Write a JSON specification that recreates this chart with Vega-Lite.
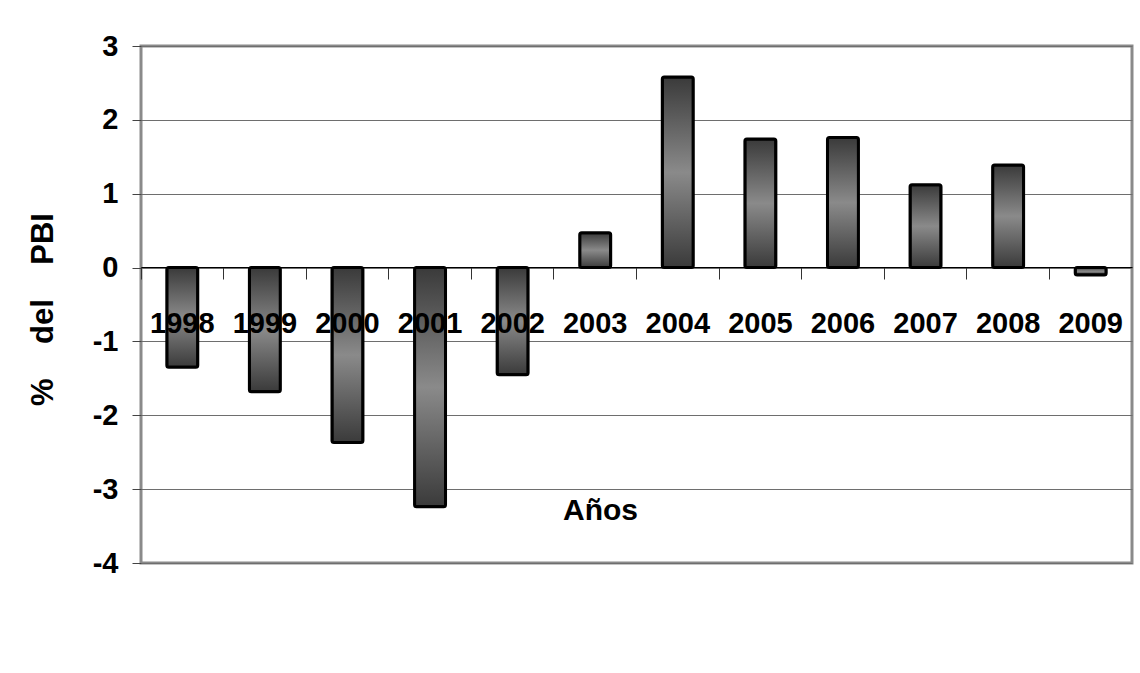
{
  "$schema": "https://vega.github.io/schema/vega-lite/v6.json",
  "width": 991,
  "height": 517,
  "autosize": {"type": "none"},
  "padding": {"left": 141, "top": 46, "right": 8, "bottom": 110},
  "background": "white",
  "config": {"view": {"stroke": "#8a8a8a", "strokeWidth": 3}},
  "data": {
    "values": [
      {"anio": "1998", "valor": -1.35},
      {"anio": "1999", "valor": -1.68},
      {"anio": "2000", "valor": -2.37},
      {"anio": "2001", "valor": -3.24},
      {"anio": "2002", "valor": -1.45},
      {"anio": "2003", "valor": 0.47},
      {"anio": "2004", "valor": 2.58},
      {"anio": "2005", "valor": 1.74},
      {"anio": "2006", "valor": 1.76},
      {"anio": "2007", "valor": 1.12},
      {"anio": "2008", "valor": 1.39},
      {"anio": "2009", "valor": -0.1}
    ]
  },
  "mark": {
    "type": "bar",
    "width": {"band": 0.375},
    "fill": {
      "gradient": "linear",
      "x1": 0, "y1": 0, "x2": 0, "y2": 1,
      "stops": [
        {"offset": 0, "color": "#3a3a3a"},
        {"offset": 0.5, "color": "#8a8a8a"},
        {"offset": 1, "color": "#3a3a3a"}
      ]
    },
    "stroke": "black",
    "strokeWidth": 3,
    "cornerRadius": 2
  },
  "encoding": {
    "x": {
      "field": "anio",
      "type": "ordinal",
      "scale": {"paddingInner": 0, "paddingOuter": 0},
      "axis": {
        "title": "Años",
        "orient": "bottom",
        "offset": -296,
        "bandPosition": 0,
        "labelAngle": 0,
        "labelFont": "Liberation Sans",
        "labelFontSize": 29,
        "labelFontWeight": "bold",
        "labelColor": "black",
        "labelPadding": 44,
        "labelBaseline": "middle",
        "labelOverlap": false,
        "labelFlush": false,
        "ticks": true,
        "tickSize": 12,
        "tickColor": "#333333",
        "tickWidth": 1,
        "domain": true,
        "domainColor": "black",
        "domainWidth": 1.2,
        "grid": false,
        "zindex": 1,
        "titleFont": "Liberation Sans",
        "titleFontSize": 30,
        "titleFontWeight": "bold",
        "titleColor": "black",
        "titleX": 459,
        "titleY": 243,
        "titleAlign": "center",
        "titleBaseline": "middle"
      }
    },
    "y": {
      "field": "valor",
      "type": "quantitative",
      "scale": {"domain": [-4, 3], "nice": false},
      "axis": {
        "title": "%\u00a0\u00a0\u00a0\u00a0del\u00a0\u00a0\u00a0\u00a0PBI",
        "values": [-4, -3, -2, -1, 0, 1, 2, 3],
        "labelExpr": "'' + datum.value",
        "grid": true,
        "gridColor": "#6e6e6e",
        "gridWidth": 1,
        "domain": false,
        "tickSize": 9,
        "tickColor": "#444444",
        "labelFont": "Liberation Sans",
        "labelFontSize": 29,
        "labelFontWeight": "bold",
        "labelColor": "black",
        "labelPadding": 14,
        "titleFont": "Liberation Sans",
        "titleFontSize": 31,
        "titleFontWeight": "bold",
        "titleColor": "black",
        "titleX": -98,
        "titleY": 263,
        "titleAngle": -90,
        "titleAlign": "center",
        "titleBaseline": "middle",
        "zindex": 0
      }
    }
  }
}
